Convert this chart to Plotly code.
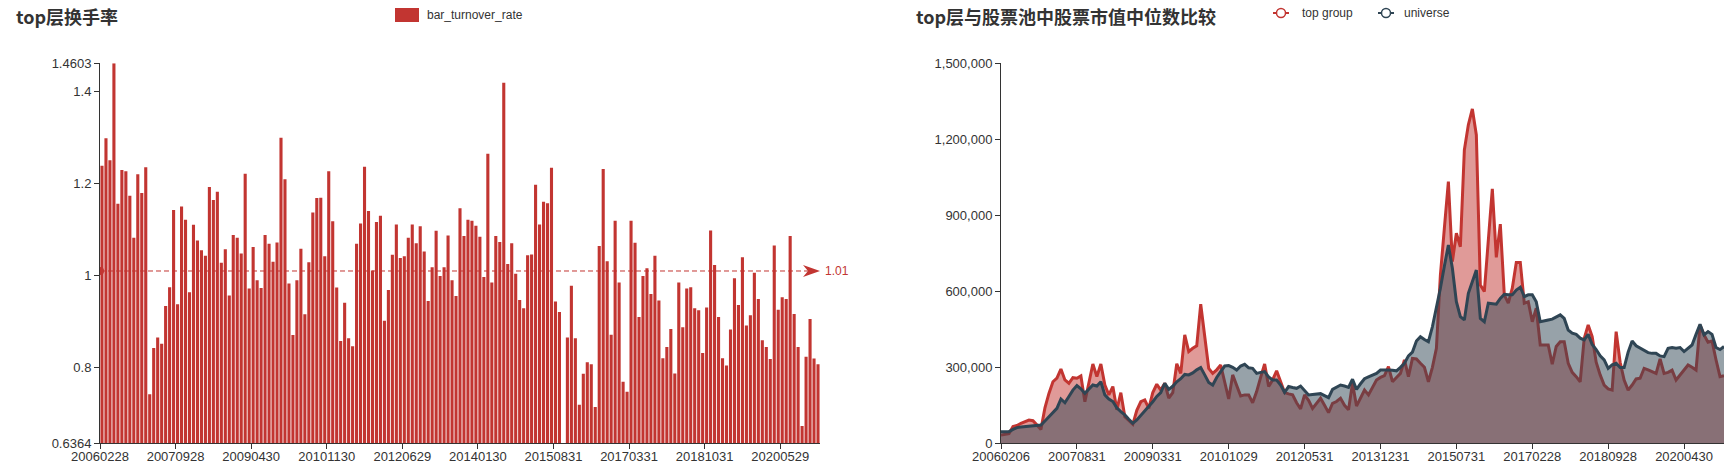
import plotly.graph_objects as go

W, H = 1725, 473
RED = "#c23531"
DARK = "#2f4554"
TXT = "#333333"

# ---------------- data ----------------
turnover = [
    1.238, 1.298, 1.250, 1.4603, 1.156, 1.229, 1.226, 1.173, 1.082, 1.220,
    1.179, 1.235, 0.743, 0.843, 0.866, 0.852, 0.934, 0.975, 1.142, 0.938,
    1.150, 1.121, 0.964, 1.110, 1.076, 1.055, 1.043, 1.192, 1.164, 1.182,
    1.028, 1.057, 0.957, 1.088, 1.082, 1.048, 1.221, 0.972, 1.062, 0.990,
    0.973, 1.088, 1.069, 1.030, 1.072, 1.299, 1.209, 0.983, 0.871, 0.990,
    1.058, 0.916, 1.029, 1.137, 1.168, 1.169, 1.042, 1.226, 1.118, 0.974,
    0.858, 0.941, 0.864, 0.847, 1.069, 1.113, 1.236, 1.140, 1.011, 1.116,
    1.130, 0.902, 0.969, 1.045, 1.111, 1.038, 1.042, 1.082, 1.111, 1.070,
    1.107, 1.052, 0.945, 1.018, 1.097, 0.999, 1.018, 1.087, 0.990, 0.956,
    1.146, 1.086, 1.121, 1.119, 1.108, 1.084, 0.997, 1.264, 0.985, 1.086,
    1.073, 1.418, 1.025, 1.070, 1.004, 0.947, 0.929, 1.044, 1.046, 1.197,
    1.111, 1.160, 1.157, 1.234, 0.944, 0.921, 0.6364, 0.866, 0.978, 0.864,
    0.720, 0.787, 0.812, 0.808, 0.715, 1.064, 1.231, 1.031, 0.872, 1.119,
    0.985, 0.770, 0.748, 1.119, 1.071, 0.910, 0.999, 1.016, 0.960, 1.043,
    0.946, 0.821, 0.845, 0.884, 0.788, 0.985, 0.888, 0.972, 0.975, 0.929,
    0.925, 0.832, 0.931, 1.098, 1.023, 0.910, 0.821, 0.805, 0.883, 0.994,
    0.936, 1.040, 0.892, 0.914, 1.006, 0.949, 0.860, 0.845, 0.819, 1.065,
    0.926, 0.953, 0.949, 1.086, 0.917, 0.845, 0.674, 0.824, 0.906, 0.820,
    0.808,
]
turnover_tick_labels = ["20060228", "20070928", "20090430", "20101130", "20120629",
                        "20140130", "20150831", "20170331", "20181031", "20200529"]
turnover_avg = 1.01
turnover_min, turnover_max = 0.6364, 1.4603
turnover_yticks = [0.6364, 0.8, 1.0, 1.2, 1.4, 1.4603]
turnover_yticktext = ["0.6364", "0.8", "1", "1.2", "1.4", "1.4603"]

top_group = [
    33000, 35000, 38000, 66000, 70000, 79000, 85000, 92000, 89000, 70000,
    55000, 140000, 197000, 243000, 257000, 293000, 250000, 237000, 259000, 257000,
    266000, 164000, 237000, 313000, 263000, 313000, 230000, 191000, 224000, 132000,
    200000, 105000, 90000, 75000, 130000, 164000, 171000, 138000, 200000, 233000,
    210000, 237000, 178000, 200000, 314000, 276000, 428000, 362000, 375000, 385000,
    549000, 420000, 296000, 276000, 290000, 309000, 240000, 175000, 270000, 230000,
    187000, 191000, 191000, 160000, 204000, 260000, 313000, 224000, 250000, 286000,
    240000, 200000, 195000, 191000, 160000, 136000, 191000, 170000, 138000, 160000,
    178000, 150000, 121000, 158000, 165000, 178000, 150000, 132000, 237000, 147000,
    180000, 210000, 191000, 220000, 250000, 260000, 267000, 303000, 243000, 260000,
    276000, 329000, 263000, 335000, 333000, 316000, 300000, 243000, 300000, 375000,
    664000, 850000, 1033000, 717000, 829000, 776000, 1158000, 1257000, 1320000, 1217000,
    625000, 599000, 796000, 1004000, 734000, 865000, 586000, 553000, 612000, 714000,
    714000, 553000, 559000, 480000, 533000, 388000, 388000, 388000, 312000, 382000,
    401000, 401000, 316000, 280000, 263000, 243000, 414000, 467000, 421000, 320000,
    270000, 230000, 215000, 210000, 441000, 320000, 250000, 210000, 230000, 254000,
    257000, 296000, 290000, 283000, 276000, 333000, 276000, 280000, 289000, 250000,
    270000, 289000, 309000, 300000, 289000, 467000, 428000, 399000, 404000, 330000,
    263000, 267000,
]
universe = [
    46000, 46000, 46000, 55000, 62000, 64000, 66000, 68000, 70000, 71000,
    72000, 88000, 105000, 120000, 138000, 175000, 160000, 185000, 210000, 228000,
    215000, 197000, 212000, 230000, 226000, 243000, 191000, 175000, 165000, 140000,
    125000, 112000, 95000, 79000, 92000, 110000, 125000, 145000, 164000, 185000,
    200000, 237000, 213000, 225000, 243000, 255000, 272000, 270000, 278000, 290000,
    299000, 270000, 240000, 230000, 260000, 283000, 305000, 307000, 300000, 289000,
    305000, 312000, 298000, 296000, 276000, 280000, 283000, 262000, 250000, 250000,
    230000, 201000, 224000, 220000, 217000, 226000, 210000, 191000, 193000, 196000,
    196000, 188000, 180000, 213000, 222000, 230000, 226000, 221000, 253000, 213000,
    235000, 255000, 262000, 270000, 276000, 289000, 290000, 289000, 288000, 286000,
    300000, 316000, 345000, 360000, 404000, 421000, 410000, 401000, 460000, 530000,
    612000, 700000, 783000, 691000, 559000, 500000, 487000, 592000, 640000, 684000,
    493000, 480000, 553000, 550000, 549000, 572000, 588000, 586000, 586000, 605000,
    616000, 579000, 586000, 586000, 559000, 480000, 485000, 487000, 490000, 500000,
    507000, 493000, 447000, 435000, 430000, 415000, 408000, 430000, 390000, 370000,
    345000, 329000, 296000, 310000, 316000, 299000, 299000, 360000, 404000, 385000,
    375000, 365000, 358000, 355000, 355000, 345000, 342000, 375000, 378000, 375000,
    378000, 362000, 375000, 388000, 430000, 470000, 428000, 441000, 430000, 378000,
    370000, 382000,
]
cap_tick_labels = ["20060206", "20070831", "20090331", "20101029", "20120531",
                   "20131231", "20150731", "20170228", "20180928", "20200430"]
cap_ymax = 1500000
cap_dtick = 300000
TICK_STEP = 19

# ---------------- helpers (page pixel -> paper fraction) ----------------
def px(x):
    return min(max(x / W, 0.0), 1.0)


def py(y):
    return min(max(1 - y / H, 0.0), 1.0)


bar_x = list(range(len(turnover)))
cap_x = list(range(len(top_group)))

fig = go.Figure()
fig.add_trace(go.Bar(
    x=bar_x, y=turnover, marker=dict(color=RED, line=dict(width=0)),
    xaxis="x", yaxis="y", showlegend=False, name="bar_turnover_rate",
))
fig.add_trace(go.Scatter(
    x=cap_x, y=top_group, mode="lines", fill="tozeroy",
    fillcolor="rgba(194,53,49,0.5)", line=dict(color=RED, width=3),
    xaxis="x2", yaxis="y2", showlegend=False, name="top group",
))
fig.add_trace(go.Scatter(
    x=cap_x, y=universe, mode="lines", fill="tozeroy",
    fillcolor="rgba(47,69,84,0.5)", line=dict(color=DARK, width=3),
    xaxis="x2", yaxis="y2", showlegend=False, name="universe",
))

ydom = [py(443.3), py(63.3)]
axis_common = dict(showline=True, linecolor=TXT, linewidth=1, ticks="outside",
                   ticklen=5, tickcolor=TXT, showgrid=False, zeroline=False,
                   tickfont=dict(size=13, color=TXT), automargin=False)

n_bar_ticks = len(turnover_tick_labels)
n_cap_ticks = len(cap_tick_labels)

fig.update_layout(
    width=W, height=H, autosize=False,
    margin=dict(l=0, r=0, t=0, b=0),
    paper_bgcolor="white", plot_bgcolor="white",
    font=dict(family="Liberation Sans, Noto Sans CJK SC, sans-serif", color=TXT),
    bargap=0.22,
    xaxis=dict(domain=[px(100), px(820)], range=[-0.5, len(turnover) - 0.5],
               tickmode="array",
               tickvals=[i * TICK_STEP - 0.5 for i in range(n_bar_ticks)],
               ticktext=turnover_tick_labels, anchor="y", ticklabelstandoff=-4,
               **axis_common),
    yaxis=dict(domain=ydom, range=[turnover_min, turnover_max], tickmode="array",
               tickvals=turnover_yticks, ticktext=turnover_yticktext,
               anchor="x", **axis_common),
    xaxis2=dict(domain=[px(1001), px(1724)], range=[0, len(top_group) - 1],
                tickmode="array",
                tickvals=[i * TICK_STEP for i in range(n_cap_ticks)],
                ticktext=cap_tick_labels, anchor="y2", ticklabelstandoff=-4,
                **axis_common),
    yaxis2=dict(domain=ydom, range=[0, cap_ymax], dtick=cap_dtick, tick0=0,
                tickformat=",", anchor="x2", **axis_common),
)

shapes = []
# average mark line (dashed) with start dot and end arrow
shapes.append(dict(type="line", xref="x", yref="y", x0=-0.5, x1=len(turnover) - 0.5,
                   y0=turnover_avg, y1=turnover_avg,
                   line=dict(color=RED, width=1, dash="5px,3px")))
shapes.append(dict(type="circle", xref="x", yref="y", xsizemode="pixel", ysizemode="pixel",
                   xanchor=-0.5, yanchor=turnover_avg, x0=-4, x1=4, y0=-4, y1=4,
                   fillcolor=RED, line=dict(width=0)))
shapes.append(dict(type="path", xref="x", yref="y", xsizemode="pixel", ysizemode="pixel",
                   xanchor=len(turnover) - 0.5, yanchor=turnover_avg,
                   path="M0,0 L-17,6 L-12,0 L-17,-6 Z",
                   fillcolor=RED, line=dict(width=0)))
# legend of left chart
shapes.append(dict(type="rect", xref="paper", yref="paper",
                   x0=px(395), x1=px(419), y0=py(22), y1=py(8),
                   fillcolor=RED, line=dict(width=0)))
# legend of right chart
for cx, col in [(1281, RED), (1386, DARK)]:
    shapes.append(dict(type="line", xref="paper", yref="paper",
                       x0=px(cx - 8), x1=px(cx + 8), y0=py(13), y1=py(13),
                       line=dict(color=col, width=2)))
    shapes.append(dict(type="circle", xref="paper", yref="paper",
                       x0=px(cx - 4.5), x1=px(cx + 4.5), y0=py(17.5), y1=py(8.5),
                       fillcolor="white", line=dict(color=col, width=1.5)))
fig.update_layout(shapes=shapes)

ann = []
ann.append(dict(text="<b>top层换手率</b>", xref="paper", yref="paper",
                x=px(14), y=py(16), xanchor="left", yanchor="middle", showarrow=False,
                font=dict(size=18, family="Noto Sans CJK SC", color=TXT)))
ann.append(dict(text="<b>top层与股票池中股票市值中位数比较</b>", xref="paper", yref="paper",
                x=px(914), y=py(16), xanchor="left", yanchor="middle", showarrow=False,
                font=dict(size=18, family="Noto Sans CJK SC", color=TXT)))
ann.append(dict(text="bar_turnover_rate", xref="paper", yref="paper",
                x=px(425), y=py(15), xanchor="left", yanchor="middle", showarrow=False,
                font=dict(size=12, color=TXT)))
ann.append(dict(text="top group", xref="paper", yref="paper",
                x=px(1300), y=py(13), xanchor="left", yanchor="middle", showarrow=False,
                font=dict(size=12, color=TXT)))
ann.append(dict(text="universe", xref="paper", yref="paper",
                x=px(1402), y=py(13), xanchor="left", yanchor="middle", showarrow=False,
                font=dict(size=12, color=TXT)))
ann.append(dict(text=f"{turnover_avg:.2f}", xref="paper", yref="y",
                x=px(823), y=turnover_avg, xanchor="left", yanchor="middle", showarrow=False,
                font=dict(size=12, color=RED)))
fig.update_layout(annotations=ann)

fig.write_html(
    "out.html",
    config={"displayModeBar": False},
    post_script="document.body.style.margin='0';document.body.style.overflow='hidden';",
)
